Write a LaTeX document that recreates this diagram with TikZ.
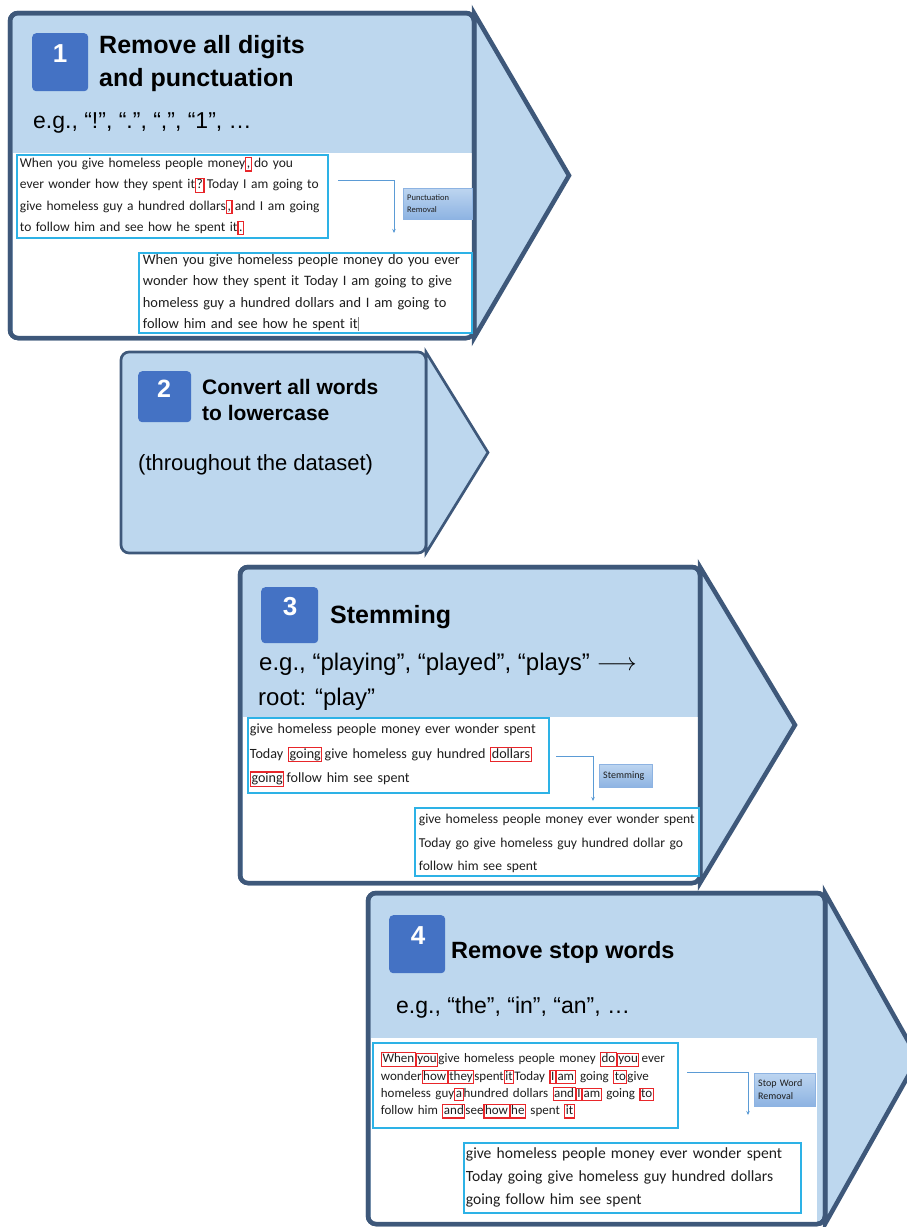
\documentclass[tikz,border=0pt]{standalone}
\usepackage{fontspec}
\setmainfont{Liberation Sans}
\newfontfamily\shotfont{Carlito}[WordSpace=0.85]
\usetikzlibrary{arrows.meta,shadows}

\definecolor{panelfill}{HTML}{BDD7EE}
\definecolor{paneledge}{HTML}{3E587A}
\definecolor{badgeblue}{HTML}{4472C4}
\definecolor{shotedge}{HTML}{2DB2E6}
\definecolor{markred}{HTML}{E8262A}
\definecolor{linkblue}{HTML}{5B9BD5}
\definecolor{tagtop}{HTML}{BDD5F0}
\definecolor{tagbottom}{HTML}{8DB3E2}
\definecolor{shotink}{HTML}{1E1E1E}

% red frame round a word or mark inside a screenshot line
\newcommand\rb[1]{{\setlength\fboxsep{0.5pt}\setlength\fboxrule{1.1pt}\fcolorbox{markred}{white}{\vphantom{Wg}#1}}}
% text cursor
\newcommand\caret{\textcolor{gray}{\rule[-3pt]{0.5pt}{14pt}}}
% one unbroken line of screenshot text
\newcommand\shotline[1]{\mbox{#1}}

\begin{document}
\begin{tikzpicture}[x=1pt,y=-1pt,
  panel/.style={draw=paneledge, fill=panelfill, rounded corners=8pt, line width=4.5pt,
    anchor=north west, inner sep=0pt, outer sep=0pt},
  rim/.style={draw=paneledge, rounded corners=8pt, line width=4.5pt},
  chevron/.style={draw=paneledge, fill=panelfill, line width=4.5pt, line join=miter},
  badge/.style={fill=badgeblue, rounded corners=4pt, anchor=north west, inner sep=0pt},
  badgenum/.style={anchor=base, inner sep=0pt, text=white, font=\bfseries\fontsize{26}{30}\selectfont},
  title/.style={anchor=base west, inner sep=0pt, font=\bfseries\fontsize{25}{30}\selectfont},
  example/.style={anchor=base west, inner sep=0pt, font=\fontsize{23}{28}\selectfont},
  shot/.style={draw=shotedge, line width=1.8pt, fill=white, anchor=north west, inner ysep=0pt,
    align=left, text=shotink,
    drop shadow={shadow xshift=1.2pt, shadow yshift=-1.5pt, opacity=0.3}},
  tag/.style={anchor=north west, draw=tagbottom, line width=0.4pt, top color=tagtop,
    bottom color=tagbottom, align=left, text=shotink, inner xsep=4pt, inner ysep=0pt},
  link/.style={draw=linkblue, line width=1pt, -{Stealth[length=4pt,width=3.5pt]}}
]
\useasboundingbox (0,0) rectangle (906,1227);

% ---------- step 1 ----------
\draw[chevron] (474,13) -- (569,175.5) -- (474,338) -- cycle;
\node[panel, minimum width=464pt, minimum height=325pt] (p1) at (10,13) {};
\fill[white] (12.5,153) rectangle (471.8,336);
\draw[rim] (p1.north west) rectangle (p1.south east);

\node[badge, minimum width=56pt, minimum height=58pt] (b1) at (32,33) {};
\node[badgenum] (n1) at (60,62) {1};
\node[title] (t1a) at (99,53) {Remove all digits};
\node[title] (t1b) at (99,86) {and punctuation};
\node[example] (e1) at (33,128) {e.g., “!”, “.”, “,”, “1”, …};

\node[shot, inner xsep=3pt, text width=305pt, minimum height=83pt,
  font=\shotfont\fontsize{13.5}{21.3}\selectfont] (s1a) at (16,154)
  {\shotline{When you give homeless people money\rb{,}\,do you}\\
   \shotline{ever wonder how they spent it\rb{?}\,Today I am going to}\\
   \shotline{give homeless guy a hundred dollars\rb{,}\,and I am going}\\
   \shotline{to follow him and see how he spent it\rb{.}}};
\node[shot, inner xsep=4pt, text width=325pt, minimum height=80pt,
  font=\shotfont\fontsize{14.4}{21.2}\selectfont] (s1b) at (138,252)
  {\shotline{When you give homeless people money do you ever}\\
   \shotline{wonder how they spent it Today I am going to give}\\
   \shotline{homeless guy a hundred dollars and I am going to}\\
   \shotline{follow him and see how he spent it\caret}};
\node[tag, minimum width=69pt, minimum height=31pt, text width=61pt,
  font=\shotfont\fontsize{8.5}{12}\selectfont] (g1) at (403,188) {Punctuation\\Removal};
\coordinate (k1a) at (338,180);
\coordinate (k1b) at (394,233);
\draw[link] (k1a) -| (k1b);

% ---------- step 2 ----------
\draw[chevron, line width=2.7pt] (426,352) -- (488,452.5) -- (426,553) -- cycle;
\node[panel, line width=2.7pt, minimum width=305pt, minimum height=201pt] (p2) at (121,352) {};

\node[badge, minimum width=53pt, minimum height=51pt] (b2) at (138,371) {};
\node[badgenum, font=\bfseries\fontsize{25}{30}\selectfont] (n2) at (164,397) {2};
\node[title, font=\bfseries\fontsize{21}{25}\selectfont] (t2a) at (202,394) {Convert all words};
\node[title, font=\bfseries\fontsize{21}{25}\selectfont] (t2b) at (202,420) {to lowercase};
\node[example, font=\fontsize{22}{26}\selectfont] (e2) at (138,470) {(throughout the dataset)};

% ---------- step 3 ----------
\draw[chevron] (700,567) -- (795,725) -- (700,883) -- cycle;
\node[panel, minimum width=460pt, minimum height=316pt] (p3) at (240,567) {};
\fill[white] (242.5,717) rectangle (697.7,881);
\draw[rim] (p3.north west) rectangle (p3.south east);

\node[badge, minimum width=57pt, minimum height=56pt] (b3) at (261,587) {};
\node[badgenum] (n3) at (290,615) {3};
\node[title] (t3) at (330,623) {Stemming};
\node[example, font=\fontsize{24}{29}\selectfont] (e3a) at (259,670)
  {e.g., “playing”, “played”, “plays” $\longrightarrow$};
\node[example, font=\fontsize{24}{29}\selectfont] (e3b) at (258,705) {root: “play”};

\node[shot, inner xsep=2pt, text width=297pt, minimum height=75pt,
  font=\shotfont\fontsize{14.1}{24.5}\selectfont] (s3a) at (247,717)
  {\shotline{give homeless people money ever wonder spent}\\
   \shotline{Today \rb{going}\,give homeless guy hundred \rb{dollars}}\\
   \shotline{\rb{going}\,follow him see spent}};
\node[shot, inner xsep=4pt, text width=276pt, minimum height=68pt,
  font=\shotfont\fontsize{13.6}{23.5}\selectfont] (s3b) at (414,807)
  {\shotline{\rule{0pt}{13pt}give homeless people money ever wonder spent}\\
   \shotline{Today go give homeless guy hundred dollar go}\\
   \shotline{follow him see spent}};
\node[tag, minimum width=53pt, minimum height=23pt, text width=45pt,
  font=\shotfont\fontsize{10}{12}\selectfont] (g3) at (599,764) {Stemming};
\coordinate (k3a) at (556,756);
\coordinate (k3b) at (593,801);
\draw[link] (k3a) -| (k3b);

% ---------- step 4 ----------
\draw[chevron] (825,893) -- (918,1058.5) -- (825,1224) -- cycle;
\node[panel, minimum width=457pt, minimum height=331pt] (p4) at (368,893) {};
\fill[white] (370.5,1038) rectangle (817,1222);
\draw[rim] (p4.north west) rectangle (p4.south east);

\node[badge, minimum width=56pt, minimum height=58pt] (b4) at (389,915) {};
\node[badgenum] (n4) at (418,944) {4};
\node[title, font=\bfseries\fontsize{23.5}{28}\selectfont] (t4) at (451,958) {Remove stop words};
\node[example] (e4) at (396,1013) {e.g., “the”, “in”, “an”, …};

\node[shot, inner xsep=8pt, text width=289pt, minimum height=85pt,
  font=\shotfont\fontsize{13}{17.3}\selectfont] (s4a) at (372,1042)
  {\shotline{\rb{When}\rb{you}give homeless people money \rb{do}\rb{you}\,ever}\\
   \shotline{wonder\rb{how}\rb{they}spent\rb{it}Today \rb{I}\rb{am} going \rb{to}give}\\
   \shotline{homeless guy\rb{a}hundred dollars \rb{and}\rb{I}\rb{am} going \rb{to}}\\
   \shotline{follow him \rb{and}see\rb{how}\rb{he} spent \rb{it}}};
\node[shot, inner xsep=2pt, text width=333pt, minimum height=70pt,
  font=\shotfont\fontsize{15.6}{23}\selectfont] (s4b) at (463,1142)
  {\shotline{give homeless people money ever wonder spent}\\
   \shotline{Today going give homeless guy hundred dollars}\\
   \shotline{going follow him see spent}};
\node[tag, minimum width=61pt, minimum height=33pt, text width=53pt,
  font=\shotfont\fontsize{10}{13}\selectfont] (g4) at (754,1073) {Stop Word\\Removal};
\coordinate (k4a) at (687,1072);
\coordinate (k4b) at (748,1115);
\draw[link] (k4a) -| (k4b);
\end{tikzpicture}
\end{document}
